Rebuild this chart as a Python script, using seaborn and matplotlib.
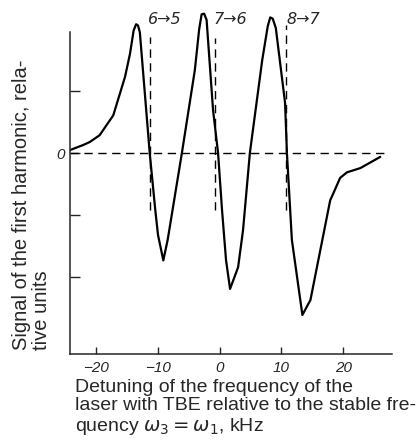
import seaborn as sns
import numpy as np
import matplotlib.pyplot as plt

# detuning (kHz) and first-harmonic signal (rel. units)
detuning = [-24.2, -22.1, -21.0, -19.4, -17.2, -15.3, -14.5, -13.9, -13.5, -13.2, -12.9,
            -11.3, -10.4, -9.96, -9.1, -8.4, -6.1, -4.0, -3.3, -2.9, -2.5, -2.1,
            -1.05, -0.24, 0.4, 1.05, 1.7, 3.0, 3.8, 4.9, 6.9, 7.8,
            8.2, 8.6, 9.1, 10.6, 10.9, 11.7, 13.4, 14.7, 17.9, 18.4, 19.5,
            20.6, 22.8, 26.0]
signal = [0.05, 0.13, 0.18, 0.29, 0.61, 1.23, 1.6, 1.98, 2.08, 2.06, 1.95,
          0.0, -0.92, -1.32, -1.73, -1.40, 0.0, 1.34, 2.0, 2.24, 2.25, 2.15,
          0.69, 0.0, -0.92, -1.73, -2.19, -1.84, -1.24, 0.0, 1.5, 2.05,
          2.19, 2.17, 2.02, 0.81, 0.0, -1.40, -2.61, -2.37, -0.76, -0.65, -0.40,
          -0.31, -0.24, -0.06]

# hyperfine transitions (dashed markers)
trans_x = [-11.3, -0.73, 10.8]
trans_top = [1.87, 1.85, 2.06]
trans_bottom = -0.92
trans_labels = ['6→5', '7→6', '8→7']
label_x = [-11.6, -1.05, 10.9]

sns.set_style('ticks')
plt.rcParams['font.family'] = ['Liberation Sans', 'DejaVu Sans']

fig = plt.figure(figsize=(4.2, 4.46), dpi=100)
ax = fig.add_axes([70 / 420, 92 / 446, 322 / 420, 349 / 446])

sns.lineplot(x=detuning, y=signal, sort=False, color='black', linewidth=1.6, ax=ax)

# zero line
ax.plot([detuning[0], 26.9], [0, 0], color='black', lw=1.0, ls=(0, (6, 4)))

for x, top, lab, lx in zip(trans_x, trans_top, trans_labels, label_x):
    ax.plot([x, x], [trans_bottom, top], color='black', lw=1.0, ls=(0, (6, 4)))
    ax.text(lx, 2.15, lab, fontsize=11.5, style='italic', ha='left', va='center',
            family=['DejaVu Sans'])

ax.set_xlim(-24.2, 27.9)
ax.set_ylim(-3.24, 2.39)
ax.set_xticks([-20, -10, 0, 10, 20])
ax.set_xticklabels(['−20', '−10', '0', '10', '20'], style='italic', fontsize=11)
ax.set_yticks([1, 0, -1, -2])
ax.set_yticklabels(['', '0', '', ''], style='italic', fontsize=11)
ax.tick_params(axis='x', direction='in', length=5, width=1, pad=5)
ax.tick_params(axis='y', direction='in', length=7, width=1, pad=4)

for s in ['top', 'right']:
    ax.spines[s].set_visible(False)
ax.spines['left'].set_bounds(-3.24, 1.95)
for s in ['left', 'bottom']:
    ax.spines[s].set_linewidth(1.1)

fig.text(12 / 420, 1 - 350 / 446,
         'Signal of the first harmonic, rela-\ntive units',
         rotation=90, ha='left', va='bottom', multialignment='left',
         fontsize=14.5, linespacing=1.05)
fig.text(75 / 420, 1 - 379 / 446,
         'Detuning of the frequency of the\n'
         'laser with TBE relative to the stable fre-\n'
         'quency $\\omega_3 = \\omega_1$, kHz',
         ha='left', va='top', fontsize=14, linespacing=1.1)

plt.savefig('out.png', dpi=100)
